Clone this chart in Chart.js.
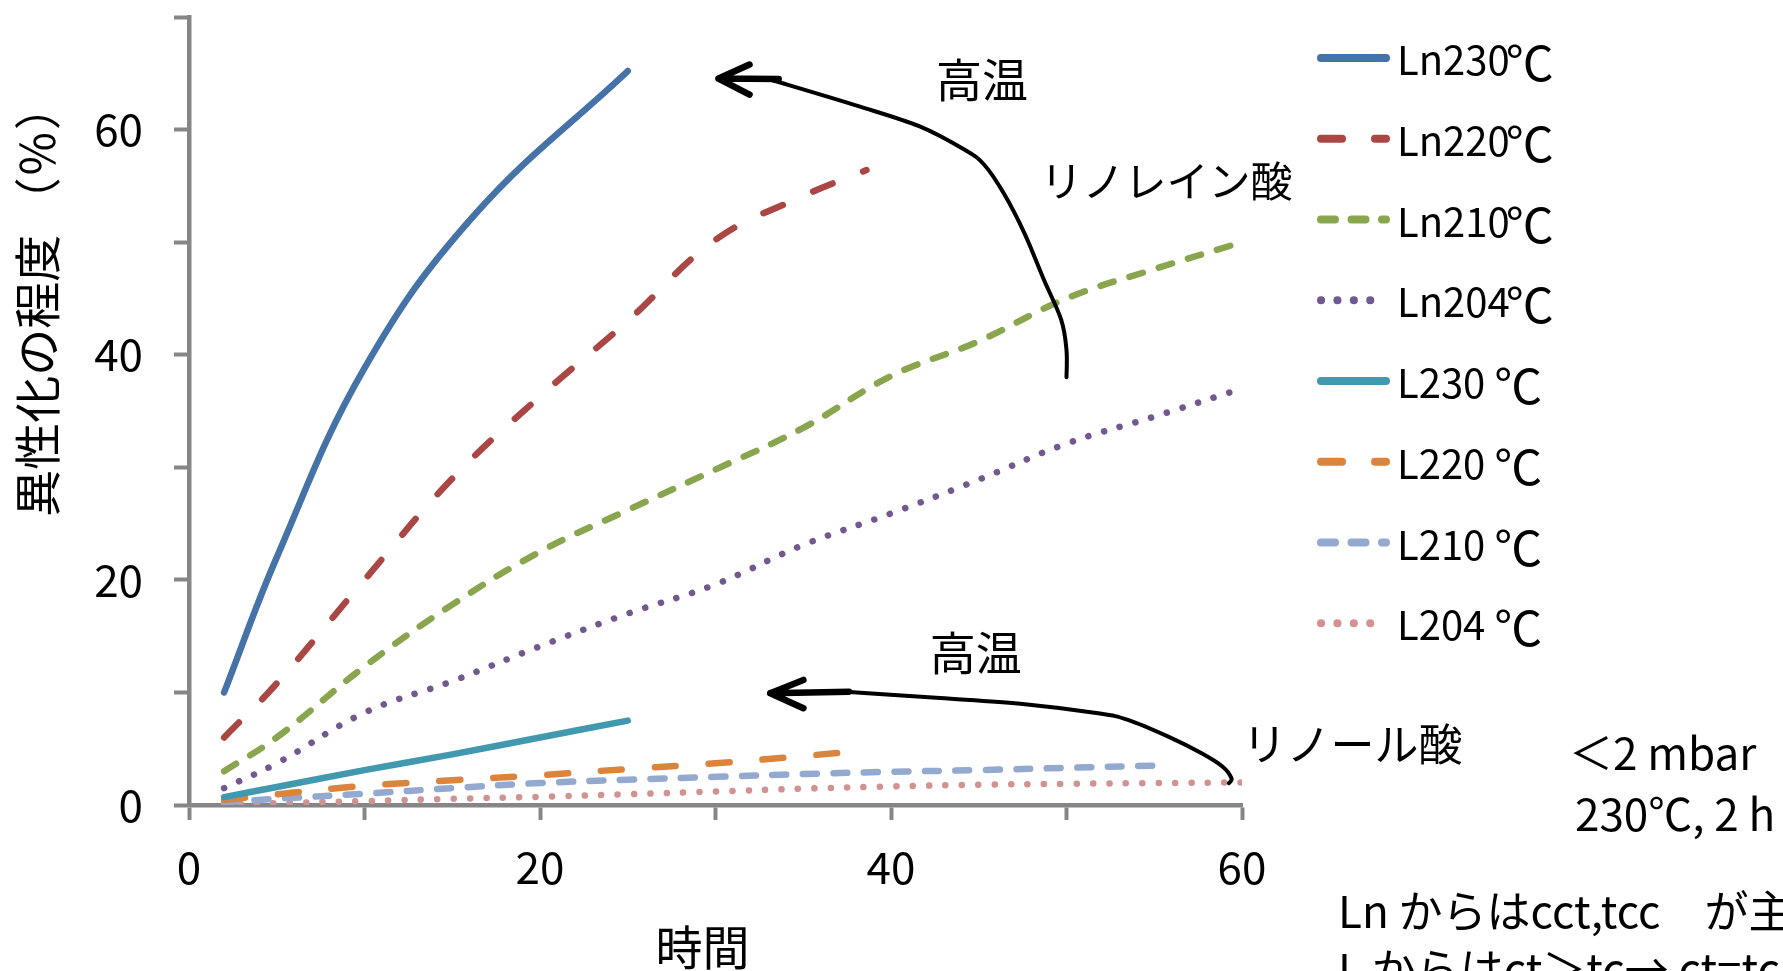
<!DOCTYPE html>
<html>
<head>
<meta charset="utf-8">
<script src="https://cdn.jsdelivr.net/npm/chart.js@4.4.1/dist/chart.umd.min.js"></script>
<style>
  html, body { margin: 0; padding: 0; background: #fff; overflow: hidden; }
  #wrap { width: 1783px; height: 971px; position: relative; }
</style>
</head>
<body>
<div id="wrap"><canvas id="chart"></canvas></div>
<script>
// series names
const seriesLabels = ['Ln230℃', 'Ln220℃', 'Ln210℃', 'Ln204℃', 'L230 ℃', 'L220 ℃', 'L210 ℃', 'L204 ℃'];

// time (min) and isomerisation (%) per series
const tLn230 = [2, 5, 10, 16.2, 25];
const vLn230 = [10, 22, 38.8, 52.3, 65.2];
const tLn220 = [2, 5, 10, 15, 20, 25, 30, 35, 38.6];
const vLn220 = [6, 10.8, 20, 29, 36.3, 43, 50.2, 54.1, 56.4];
const tLn210 = [2, 5, 10, 15, 20, 25, 30, 35, 40, 45, 50, 55, 60];
const vLn210 = [3, 6, 12.3, 17.8, 22.5, 26.2, 29.8, 33.5, 38.1, 41.2, 45, 47.6, 50];
const tLn204 = [2, 5, 10, 15, 20, 25, 30, 35, 40, 45, 50, 55, 60];
const vLn204 = [1.5, 3.7, 8.2, 11, 14.1, 17, 19.6, 23.1, 25.9, 28.9, 32.1, 34.5, 37];
const tL230 = [2, 5, 10, 15, 20, 25];
const vL230 = [0.7, 1.6, 3.1, 4.5, 6.0, 7.5];
const tL220 = [2, 5, 10, 15, 20, 25, 30, 35, 38.5];
const vL220 = [0.45, 0.95, 1.7, 2.2, 2.65, 3.2, 3.7, 4.35, 4.85];
const tL210 = [2, 5, 10, 15, 20, 25, 30, 35, 40, 45, 50, 55];
const vL210 = [0.25, 0.55, 1.0, 1.5, 1.95, 2.25, 2.5, 2.75, 2.95, 3.1, 3.3, 3.5];
const tL204 = [2, 5, 10, 15, 20, 25, 30, 35, 40, 45, 50, 55, 60];
const vL204 = [0.1, 0.17, 0.35, 0.55, 0.73, 0.95, 1.2, 1.45, 1.65, 1.8, 1.88, 1.95, 2.0];

const xTickLabels = [0, 20, 40, 60];
const yTickLabels = [0, 20, 40, 60];

const times = [tLn230, tLn220, tLn210, tLn204, tL230, tL220, tL210, tL204];
const values = [vLn230, vLn220, vLn210, vLn204, vL230, vL220, vL210, vL204];

// styling
const colors = ['#4572A7', '#AA4643', '#89A54E', '#71588F', '#4198AF', '#DB843D', '#93A9CF', '#D19392'];
const longDash = [21, 33];
const dash = [14, 16.5];
const dot = [0.1, 16.3];
const dashes = [[], longDash, dash, dot, [], longDash, dash, dot];

const FONT = '"Noto Sans CJK JP", "Noto Sans", sans-serif';
const AXIS = '#868686';

const datasets = seriesLabels.map((label, i) => ({
  label: label,
  data: times[i].map((t, j) => ({ x: t, y: values[i][j] })),
  borderColor: colors[i],
  backgroundColor: colors[i],
  borderWidth: 6.5,
  borderDash: dashes[i],
  borderCapStyle: 'round',
  borderJoinStyle: 'round',
  pointRadius: 0,
  tension: 0.4,
  fill: false
}));

// annotation arrows (in axis units)
const arrows = [
  {
    tip: [30.17, 64.53], shaftEnd: [33.6, 64.5], arms: [[31.94, 65.78], [31.94, 63.11]],
    curve: [[33.2, 64.4], [38.1, 62.1], [41.6, 60.3], [44.2, 58.2], [45.3, 56.9], [46.4, 54.4],
            [47.6, 50.8], [48.7, 46.7], [49.7, 43.1], [50.0, 40.4], [50.0, 38.0]]
  },
  {
    tip: [33.12, 9.93], shaftEnd: [37.61, 10.07], arms: [[35.01, 11.11], [35.01, 8.6]],
    curve: [[37.4, 10.05], [42.8, 9.5], [47.5, 8.98], [51.8, 8.15], [53.5, 7.56], [55.8, 6.07],
            [57.7, 4.59], [58.9, 3.4], [59.4, 2.37], [59.25, 1.93]]
  }
];
const plotTexts = [
  { text: '高温', at: [45.19, 64.44], size: 46 },
  { text: 'リノレイン酸', at: [55.7, 55.47], size: 42 },
  { text: '高温', at: [44.83, 13.56], size: 46 },
  { text: 'リノール酸', at: [66.3, 5.42], size: 44 }
];
const sideNotes = [
  { text: '＜2 mbar', x: 1569, y: 770, size: 44 },
  { text: '230℃, 2 h', x: 1575, y: 831, size: 44 },
  { text: 'Ln からはcct,tcc　が主', x: 1338, y: 928, size: 44 },
  { text: 'L からはct＞tc→ ct=tc', x: 1338, y: 986, size: 44 }
];

function smoothPath(ctx, pts) {
  ctx.moveTo(pts[0][0], pts[0][1]);
  for (let i = 0; i < pts.length - 1; i++) {
    const p0 = pts[i - 1] || pts[i], p1 = pts[i], p2 = pts[i + 1], p3 = pts[i + 2] || p2;
    ctx.bezierCurveTo(
      p1[0] + (p2[0] - p0[0]) / 6, p1[1] + (p2[1] - p0[1]) / 6,
      p2[0] - (p3[0] - p1[0]) / 6, p2[1] - (p3[1] - p1[1]) / 6,
      p2[0], p2[1]);
  }
}

const decorations = {
  id: 'decorations',
  afterDraw(chart) {
    const { ctx, scales: { x, y } } = chart;
    const P = p => [x.getPixelForValue(p[0]), y.getPixelForValue(p[1])];
    ctx.save();

    // legend
    chart.data.datasets.forEach((ds, i) => {
      const cy = 58 + i * 80.75;
      ctx.beginPath();
      ctx.strokeStyle = ds.borderColor;
      ctx.lineWidth = 8;
      ctx.lineCap = 'round';
      ctx.setLineDash(ds.borderDash);
      ctx.moveTo(1321, cy);
      ctx.lineTo(1386, cy);
      ctx.stroke();
      ctx.setLineDash([]);
      ctx.fillStyle = '#000';
      ctx.textAlign = 'left';
      ctx.textBaseline = 'middle';
      const k = ds.label.indexOf('℃');
      const head = ds.label.slice(0, k);
      ctx.font = '40px ' + FONT;
      ctx.fillText(head, 1397, cy + 2);
      const w = ctx.measureText(head).width;
      ctx.font = '48px ' + FONT;
      ctx.fillText('℃', 1397 + w - (head.endsWith(' ') ? 0 : 4), cy + 5);
    });

    // arrows
    ctx.strokeStyle = '#000';
    ctx.lineCap = 'round';
    ctx.lineJoin = 'round';
    arrows.forEach(a => {
      ctx.beginPath();
      ctx.lineWidth = 4;
      smoothPath(ctx, a.curve.map(P));
      ctx.stroke();
      const tip = P(a.tip), end = P(a.shaftEnd);
      ctx.beginPath();
      ctx.lineWidth = 6.5;
      ctx.moveTo(tip[0], tip[1]);
      ctx.lineTo(end[0], end[1]);
      a.arms.forEach(arm => {
        const q = P(arm);
        ctx.moveTo(q[0], q[1]);
        ctx.lineTo(tip[0], tip[1]);
      });
      ctx.stroke();
    });

    // texts inside the plot
    ctx.fillStyle = '#000';
    ctx.textAlign = 'center';
    ctx.textBaseline = 'middle';
    plotTexts.forEach(t => {
      const p = P(t.at);
      ctx.font = t.size + 'px ' + FONT;
      ctx.fillText(t.text, p[0], p[1]);
    });

    // notes on the right
    ctx.textAlign = 'left';
    ctx.textBaseline = 'alphabetic';
    sideNotes.forEach(n => {
      ctx.font = n.size + 'px ' + FONT;
      ctx.fillText(n.text, n.x, n.y);
    });

    // axis titles
    ctx.font = '47px ' + FONT;
    ctx.textAlign = 'center';
    ctx.textBaseline = 'middle';
    ctx.fillText('時間', 702.5, 947);
    ctx.translate(37.5, 300);
    ctx.rotate(-Math.PI / 2);
    ctx.fillText('異性化の程度 （％）', 0, 0);
    ctx.restore();
  }
};

new Chart(document.getElementById('chart'), {
  type: 'line',
  data: { datasets: datasets },
  options: {
    responsive: true,
    maintainAspectRatio: false,
    animation: false,
    layout: { padding: { left: 0, top: 17, right: 541, bottom: 0 } },
    plugins: {
      legend: { display: false },
      tooltip: { enabled: false }
    },
    scales: {
      x: {
        type: 'linear',
        min: 0,
        max: 60,
        border: { color: AXIS, width: 4.5 },
        grid: { drawOnChartArea: false, drawTicks: true, tickLength: 15, tickWidth: 4, tickColor: AXIS },
        ticks: {
          stepSize: 10,
          autoSkip: false,
          maxRotation: 0,
          padding: 21,
          color: '#000',
          font: { family: FONT, size: 44 },
          callback: v => xTickLabels.includes(v) ? String(v) : ''
        },
        afterFit: s => { s.height = 166; s.paddingLeft = 0; s.paddingRight = 0; }
      },
      y: {
        min: 0,
        max: 70,
        border: { color: AXIS, width: 4.5 },
        grid: { drawOnChartArea: false, drawTicks: true, tickLength: 15, tickWidth: 4, tickColor: AXIS },
        ticks: {
          stepSize: 10,
          autoSkip: false,
          padding: 31,
          color: '#000',
          font: { family: FONT, size: 44 },
          callback: v => yTickLabels.includes(v) ? String(v) : ''
        },
        afterFit: s => { s.width = 189; s.paddingTop = 0; s.paddingBottom = 0; }
      }
    }
  },
  plugins: [decorations]
});
</script>
</body>
</html>
